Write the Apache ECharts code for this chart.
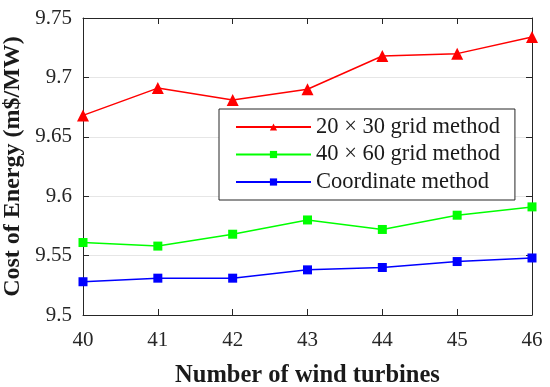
<!DOCTYPE html>
<html>
<head>
<meta charset="utf-8">
<script src="https://cdn.jsdelivr.net/npm/echarts@6/dist/echarts.min.js"></script>
<style>html,body{margin:0;padding:0;background:#fff;}#c{width:550px;height:387px;}</style>
</head>
<body>
<div id="c"></div>
<script>
const turbines = [40, 41, 42, 43, 44, 45, 46];
const grid20x30 = [9.668, 9.691, 9.681, 9.690, 9.718, 9.720, 9.734];
const grid40x60 = [9.561, 9.558, 9.568, 9.580, 9.572, 9.584, 9.591];
const coordinate = [9.528, 9.531, 9.531, 9.538, 9.540, 9.545, 9.548];
const yTicks = [9.5, 9.55, 9.6, 9.65, 9.7, 9.75];
const seriesNames = ['20 \u00d7 30 grid method', '40 \u00d7 60 grid method', 'Coordinate method'];

const font = 'Liberation Serif, Times New Roman, serif';
const axisColor = '#262626';
const pairs = arr => turbines.map((t, i) => [t, arr[i]]);

const chart = echarts.init(document.getElementById('c'));
const baseX = {
  type: 'value', min: 40, max: 46, interval: 1,
  axisLine: {show: true, lineStyle: {color: axisColor, width: 1}},
  axisTick: {show: true, inside: true, length: 6, lineStyle: {color: axisColor}},
  splitLine: {show: false}
};
const baseY = {
  type: 'value', min: 9.5, max: 9.75, interval: 0.05,
  axisLine: {show: true, lineStyle: {color: axisColor, width: 1}},
  axisTick: {show: true, inside: true, length: 6, lineStyle: {color: axisColor}}
};
chart.setOption({
  animation: false,
  backgroundColor: '#fff',
  grid: {left: 83, right: 18, top: 18, bottom: 72, containLabel: false, outerBoundsMode: 'none'},
  xAxis: [
    Object.assign({}, baseX, {
      position: 'bottom',
      name: 'Number of wind turbines', nameLocation: 'middle', nameGap: 48,
      nameTextStyle: {fontFamily: font, fontSize: 24.5, fontWeight: 'bold', color: '#1a1a1a'},
      axisLabel: {fontFamily: font, fontSize: 21, color: axisColor, margin: 15,
        formatter: v => String(v)}
    }),
    Object.assign({}, baseX, {position: 'top', axisLabel: {show: false}})
  ],
  yAxis: [
    Object.assign({}, baseY, {
      position: 'left',
      name: 'Cost of Energy (m$/MW)', nameLocation: 'middle', nameGap: 49,
      nameTextStyle: {fontFamily: font, fontSize: 24, fontWeight: 'bold', color: '#1a1a1a'},
      splitLine: {show: true, lineStyle: {color: '#e6e6e6', width: 1}},
      axisLabel: {fontFamily: font, fontSize: 21, color: axisColor, margin: 11,
        formatter: v => { const i = yTicks.findIndex(t => Math.abs(t - v) < 1e-9); return i >= 0 ? String(yTicks[i]) : ''; }}
    }),
    Object.assign({}, baseY, {position: 'right', axisLabel: {show: false}, splitLine: {show: false}})
  ],
  legend: {
    left: 219, top: 109, orient: 'vertical',
    padding: [6, 15, 6, 16],
    itemWidth: 75, itemHeight: 9, itemGap: 3.5, itemTextGap: 8,
    borderColor: axisColor, borderWidth: 1, backgroundColor: '#fff',
    textStyle: {fontFamily: font, fontSize: 22.5, color: '#1a1a1a', lineHeight: 24},
    data: seriesNames
  },
  series: [
    {name: seriesNames[0], type: 'line', data: pairs(grid20x30), symbol: 'triangle', symbolSize: 12,
      lineStyle: {color: '#ff0000', width: 1.5}, itemStyle: {color: '#ff0000'}},
    {name: seriesNames[1], type: 'line', data: pairs(grid40x60), symbol: 'rect', symbolSize: 9,
      lineStyle: {color: '#00ff00', width: 1.5}, itemStyle: {color: '#00ff00'}},
    {name: seriesNames[2], type: 'line', data: pairs(coordinate), symbol: 'rect', symbolSize: 9,
      lineStyle: {color: '#0000ff', width: 1.5}, itemStyle: {color: '#0000ff'}}
  ]
});
</script>
</body>
</html>
